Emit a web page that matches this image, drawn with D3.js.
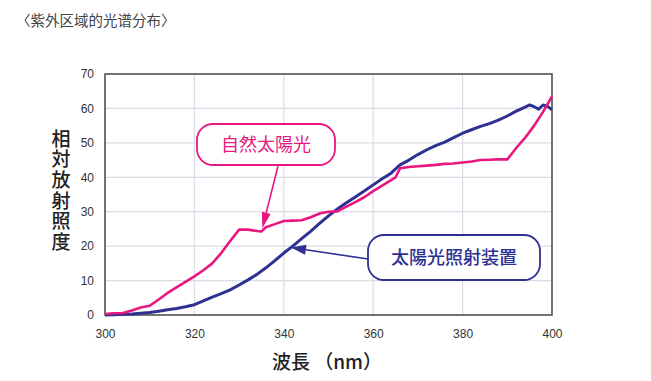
<!DOCTYPE html>
<html><head><meta charset="utf-8">
<script src="https://cdn.jsdelivr.net/npm/d3@7"></script>
<style>body{margin:0;background:#fff;}svg{display:block;}</style>
</head><body>
<svg id="chart" width="651" height="381"></svg>
<script>
const title = "〈紫外区域的光谱分布〉";
const yTitle = "相対放射照度";
const xTitle = "波長 （nm）";
const xTicks = [300, 320, 340, 360, 380, 400];
const yTicks = [0, 10, 20, 30, 40, 50, 60, 70];

const sunLabel = "自然太陽光";
const sunX = [300,302,304,306,308,310,312,314,316,318,320,322,324,326,328,330,332,334,335,336,338,340,342,344,346,348,350,352,354,356,358,360,362,364,365,366,368,370,372,374,376,378,380,382,384,386,388,390,392,394,396,398,400];
const sunY = [0.3,0.5,0.6,1.3,2.2,2.7,4.5,6.4,8.0,9.6,11.2,13.0,15.0,18.0,21.5,24.8,24.8,24.4,24.3,25.5,26.4,27.3,27.4,27.5,28.4,29.5,30.0,30.1,31.5,32.8,34.2,36.0,37.6,39.2,40.0,42.6,43.0,43.2,43.4,43.6,43.9,44.0,44.3,44.6,45.0,45.1,45.2,45.2,48.5,51.5,55.0,59.0,63.5];

const devLabel = "太陽光照射装置";
const devX = [300,302,304,306,308,310,312,314,316,318,320,322,324,326,328,330,332,334,336,338,340,342,344,346,348,350,352,354,356,358,360,362,364,366,368,370,372,374,376,378,380,382,384,386,388,390,392,394,395,396,397,398,399,400];
const devY = [0,0.1,0.2,0.3,0.5,0.7,1.1,1.5,1.9,2.4,3.0,4.1,5.2,6.2,7.3,8.7,10.2,11.8,13.7,15.8,18.0,20.0,22.2,24.3,26.6,28.8,30.8,32.6,34.3,36.0,37.8,39.6,41.2,43.6,45.0,46.6,48.0,49.2,50.2,51.5,52.8,53.8,54.8,55.6,56.6,57.8,59.2,60.4,61.0,60.5,59.8,61.0,60.6,59.6];

const pink = "#e8177f", navy = "#2e3092";
const svg = d3.select("#chart");
const L = 105, R = 552, T = 74, B = 315;
const x = d3.scaleLinear().domain([300, 400]).range([L, R]);
const y = d3.scaleLinear().domain([0, 70]).range([B, T]);

// title
svg.append("text").attr("x", 16).attr("y", 26).attr("font-family", "Noto Sans CJK JP")
  .attr("font-size", 14.5).attr("fill", "#444").text(title);

// grid
const g = svg.append("g");
g.selectAll(".gy").data(yTicks).join("line").attr("x1", L).attr("x2", R)
  .attr("y1", d => y(d)).attr("y2", d => y(d)).attr("stroke", "#dcdce6").attr("stroke-width", 1.2);
g.selectAll(".gx").data(xTicks).join("line").attr("y1", T).attr("y2", B)
  .attr("x1", d => x(d)).attr("x2", d => x(d)).attr("stroke", "#dcdce6").attr("stroke-width", 1.2);

// axes labels via d3 axes
const ax = svg.append("g").attr("transform", `translate(0,${B})`)
  .call(d3.axisBottom(x).tickValues(xTicks).tickSize(0).tickPadding(14));
const ay = svg.append("g").attr("transform", `translate(${L},0)`)
  .call(d3.axisLeft(y).tickValues(yTicks).tickSize(0).tickPadding(11));
[ax, ay].forEach(a => {
  a.select(".domain").remove();
  a.selectAll("text").attr("font-family", "Liberation Sans, Arial").attr("font-size", 12).attr("fill", "#333");
});

// frame
svg.append("rect").attr("x", L).attr("y", T).attr("width", R - L).attr("height", B - T)
  .attr("fill", "none").attr("stroke", "#555").attr("stroke-width", 1.6);

// lines
const line = d3.line().x(d => x(d[0])).y(d => y(d[1]));
svg.append("path").datum(devX.map((v, i) => [v, devY[i]])).attr("d", line)
  .attr("fill", "none").attr("stroke", navy).attr("stroke-width", 3).attr("stroke-linejoin", "round");
svg.append("path").datum(sunX.map((v, i) => [v, sunY[i]])).attr("d", line)
  .attr("fill", "none").attr("stroke", pink).attr("stroke-width", 2.6).attr("stroke-linejoin", "round");

// axis titles
svg.append("text").attr("x", 61).attr("y", 129)
  .style("writing-mode", "vertical-rl").style("letter-spacing", "1.6px")
  .attr("font-family", "Noto Sans CJK JP").attr("font-size", 19)
  .attr("font-weight", 500).attr("fill", "#222").text(yTitle);
svg.append("text").attr("x", 327).attr("y", 369).attr("text-anchor", "middle")
  .attr("font-family", "Noto Sans CJK JP").attr("font-size", 19).attr("font-weight", 500)
  .attr("fill", "#222").text(xTitle);

// arrows
function arrow(x1, y1, x2, y2, color, len, w) {
  const ang = Math.atan2(y2 - y1, x2 - x1);
  const bx = x2 - len * Math.cos(ang), by = y2 - len * Math.sin(ang);
  svg.append("line").attr("x1", x1).attr("y1", y1).attr("x2", bx).attr("y2", by)
    .attr("stroke", color).attr("stroke-width", 1.6);
  const px = -Math.sin(ang) * w / 2, py = Math.cos(ang) * w / 2;
  svg.append("path").attr("d", `M${x2},${y2}L${bx + px},${by + py}L${bx - px},${by - py}Z`).attr("fill", color);
}
// callouts
function callout(x0, y0, w, h, text, color, weight) {
  svg.append("rect").attr("x", x0).attr("y", y0).attr("width", w).attr("height", h)
    .attr("rx", 16).attr("ry", 16).attr("fill", "#fff").attr("stroke", color).attr("stroke-width", 1.8);
  svg.append("text").attr("x", x0 + w / 2).attr("y", y0 + h / 2 + 6.5).attr("text-anchor", "middle")
    .attr("font-family", "Noto Sans CJK JP").attr("font-size", 18).attr("font-weight", weight)
    .attr("fill", color).text(text);
}
arrow(278, 166, x(335.2), y(24.6) - 2, pink, 16, 9);
callout(197, 124, 138, 41, sunLabel, pink, 400);
arrow(368, 259, x(341.6), y(19.6), navy, 15, 10);
callout(368, 235, 172, 45, devLabel, navy, 500);
</script>
</body></html>
